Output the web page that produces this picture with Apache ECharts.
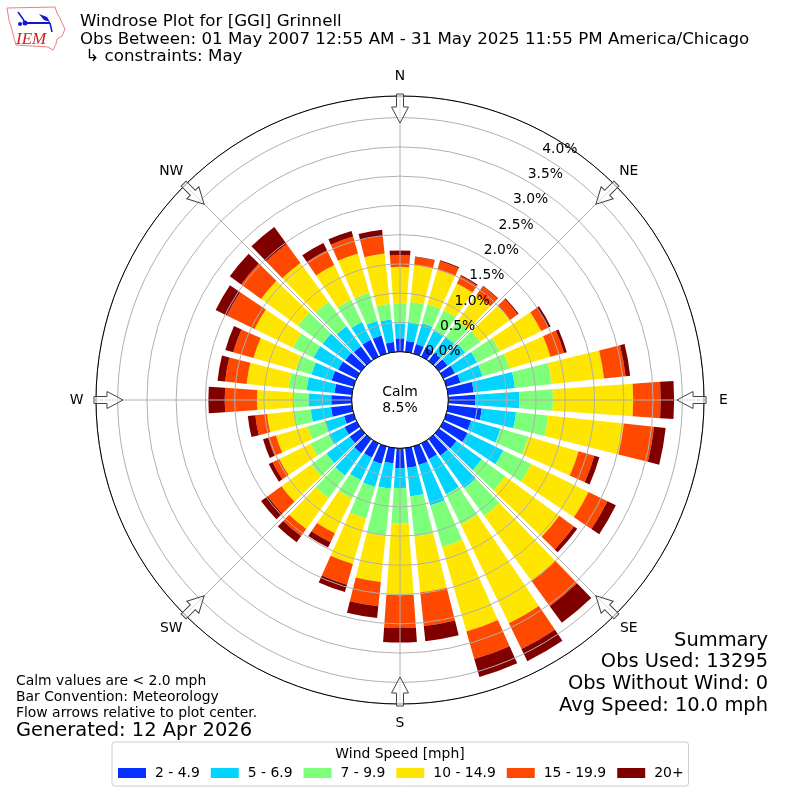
<!DOCTYPE html>
<html><head><meta charset="utf-8">
<style>html,body{margin:0;padding:0;background:#fff}#c{width:800px;height:800px}</style>
<script src="https://cdn.jsdelivr.net/npm/echarts@6/dist/echarts.min.js"></script>
</head><body><div id="c"></div>
<script>
const directions = ['0','10','20','30','40','50','60','70','80','90','100','110','120','130','140','150','160','170','180','190','200','210','220','230','240','250','260','270','280','290','300','310','320','330','340','350'];
const speedBins = ['2 - 4.9','5 - 6.9','7 - 9.9','10 - 14.9','15 - 19.9','20+'];
const binColors = ['#0530ff','#00d4ff','#7dff7a','#ffe600','#ff4800','#800000'];
const bin2to5   = [.23,.19,.17,.18,.17,.18,.22,.25,.44,.46,.58,.44,.46,.37,.35,.30,.33,.34,.34,.26,.31,.27,.30,.24,.23,.17,.36,.35,.30,.39,.35,.33,.31,.32,.32,.17];
const bin5to7   = [.25,.32,.37,.31,.34,.37,.42,.39,.71,.76,.59,.52,.68,.53,.69,.67,.72,.49,.34,.44,.41,.43,.47,.49,.30,.34,.35,.39,.48,.36,.47,.48,.42,.34,.26,.39];
const bin7to10  = [.35,.35,.34,.39,.34,.32,.43,.48,.63,.57,.55,.50,.53,.50,.58,.57,.74,.69,.60,.81,.56,.35,.48,.32,.35,.31,.29,.26,.31,.28,.39,.52,.52,.42,.50,.27];
const bin10to15 = [.62,.63,.61,.51,.55,.63,.79,.73,.90,1.37,1.30,.89,1.09,1.14,1.38,1.88,1.50,.96,1.23,.79,.81,.66,.65,.63,.59,.56,.46,.62,.72,.75,.73,.78,.82,.66,.70,.86];
const bin15to20 = [.20,.14,.15,.14,.18,.16,.13,.24,.37,.47,.52,.28,.36,.31,.53,.49,.49,.58,.56,.42,.37,.17,.15,.29,.13,.14,.20,.55,.37,.36,.53,.42,.40,.28,.30,.30];
const bin20plus = [.08,.01,.02,.02,.01,.02,.05,.05,.08,.23,.20,.09,.16,.07,.35,.23,.32,.26,.25,.20,.13,.10,.13,.14,.07,.09,.13,.28,.13,.14,.21,.24,.36,.14,.10,.11];
const compassNames = ['N','NE','E','SE','S','SW','W','NW'];
const compassAngles = [0,45,90,135,180,225,270,315];
const binValues = [bin2to5,bin5to7,bin7to10,bin10to15,bin15to20,bin20plus];

const F = 'DejaVu Sans';
const CX = 400, CY = 400, R0 = 48.3, R1 = 304, RL = 323.5;
const txt = (x,y,text,size,align,extra) => ({type:'text',x,y,z:20,silent:true,style:Object.assign({text,fontFamily:F,fontSize:size,fill:'#000',align:align||'left',verticalAlign:'middle'},extra||{})});
const arrowPts = [[-3.5,-306],[3.5,-306],[3.5,-293],[8.5,-293],[0,-277],[-8.5,-293],[-3.5,-293]];
const arrows = compassAngles.map(a => ({type:'polygon',x:CX,y:CY,rotation:-a*Math.PI/180,z:15,silent:true,
  shape:{points:arrowPts},style:{fill:'rgba(255,255,255,0.6)',stroke:'#444',lineWidth:1}}));
const compassText = compassAngles.map((a,i) => txt(CX+RL*Math.sin(a*Math.PI/180),CY-RL*Math.cos(a*Math.PI/180),compassNames[i],13.9,'center'));
const logo = [
  {type:'polygon',z:15,silent:true,shape:{points:[[7,8],[55,7],[57,13],[60,18],[62,23],[65,29],[62,36],[57,39],[56,44],[53,50],[48,47],[16,45],[14,38],[12,30],[9,20]]},style:{fill:'#fff',stroke:'#e88080',lineWidth:1}},
  {type:'polyline',z:16,silent:true,shape:{points:[[25,23],[50,23]]},style:{stroke:'#1018d0',lineWidth:2}},
  {type:'polyline',z:16,silent:true,shape:{points:[[18,12],[23,19],[25,23]]},style:{stroke:'#1018d0',lineWidth:1.5}},
  {type:'polygon',z:16,silent:true,shape:{points:[[39,14],[47,17],[50,22],[44,20]]},style:{fill:'#1018d0'}},
  {type:'polyline',z:16,silent:true,shape:{points:[[50,23],[52,32]]},style:{stroke:'#1018d0',lineWidth:1.5}},
  {type:'circle',z:16,silent:true,shape:{cx:20,cy:24,r:2},style:{fill:'#1018d0'}},
  {type:'circle',z:16,silent:true,shape:{cx:25,cy:23,r:2.5},style:{fill:'#1018d0'}},
  txt(16,40,'IEM',17,'left',{fontFamily:'Liberation Serif',fontStyle:'italic',fill:'#d02020'})
];
const option = {
  animation:false,
  backgroundColor:'#fff',
  title:{text:'Windrose Plot for [GGI] Grinnell\nObs Between: 01 May 2007 12:55 AM - 31 May 2025 11:55 PM America/Chicago\n \u21B3 constraints: May',
    left:80,top:13,padding:0,textStyle:{fontFamily:F,fontSize:16.67,fontWeight:'normal',color:'#000',lineHeight:17.5}},
  legend:{data:speedBins,left:112,top:742,orient:'horizontal',icon:'rect',itemWidth:28,itemHeight:10,itemGap:11,selectedMode:false,
    padding:[24,5,6,6],backgroundColor:'#fff',borderColor:'#ccc',borderWidth:1,borderRadius:3,
    textStyle:{fontFamily:F,fontSize:13.9,color:'#000',padding:[0,0,0,4]}},
  polar:[
    {center:[CX,CY],radius:[R0,R1]},
    {center:[CX,CY],radius:[R0,R1]},
    {center:[CX,CY],radius:[R0+15,R0+15+234]}
  ],
  angleAxis:[
    {polarIndex:0,type:'category',data:directions,startAngle:95,clockwise:true,show:false},
    {polarIndex:1,type:'value',min:0,max:360,interval:45,startAngle:90,clockwise:true,z:4,
      axisLine:{show:true,lineStyle:{color:'#000',width:1}},axisTick:{show:false},
      splitLine:{show:true,lineStyle:{color:'#b0b0b0',width:1}},minorTick:{show:false},
      axisLabel:{show:false}},
    {polarIndex:2,type:'value',min:0,max:360,startAngle:60,clockwise:true,show:false}
  ],
  radiusAxis:[
    {polarIndex:0,type:'value',min:0,max:4.37,interval:0.5,z:3,axisLine:{show:false},axisTick:{show:false},axisLabel:{show:false},
      splitLine:{show:true,lineStyle:{color:'#b0b0b0',width:1,type:'solid'}}},
    {polarIndex:1,type:'value',min:0,max:1,show:false},
    {polarIndex:2,type:'value',min:0,max:4,interval:0.5,z:6,axisLine:{show:false},axisTick:{show:false},splitLine:{show:false},
      axisLabel:{show:true,margin:-13,align:'center',verticalAlign:'middle',padding:[2,0,0,0],fontFamily:F,fontSize:13.9,color:'#000',formatter:v=>v.toFixed(1)+'%'}}
  ],
  series:speedBins.map((name,i)=>({name,type:'bar',coordinateSystem:'polar',polarIndex:0,stack:'wind',barWidth:'80%',
    itemStyle:{color:binColors[i]},data:binValues[i],silent:true})),
  graphic:{elements:[
    {type:'circle',x:CX,y:CY,z:15,silent:true,shape:{cx:0,cy:0,r:R0},style:{fill:'#fff',stroke:'#000',lineWidth:1}},
    txt(400,392,'Calm',13.9,'center'),
    txt(400,408,'8.5%',13.9,'center'),
    ...arrows,
    ...compassText,
    txt(768,641,'Summary',19.44,'right'),
    txt(768,662,'Obs Used: 13295',19.44,'right'),
    txt(768,684,'Obs Without Wind: 0',19.44,'right'),
    txt(768,706,'Avg Speed: 10.0 mph',19.44,'right'),
    txt(16,681,'Calm values are < 2.0 mph',13.9),
    txt(16,697,'Bar Convention: Meteorology',13.9),
    txt(16,713,'Flow arrows relative to plot center.',13.9),
    txt(16,731,'Generated: 12 Apr 2026',19.44),
    txt(400,754,'Wind Speed [mph]',13.9,'center'),
    ...logo
  ]}
};
echarts.init(document.getElementById('c')).setOption(option);
</script></body></html>
